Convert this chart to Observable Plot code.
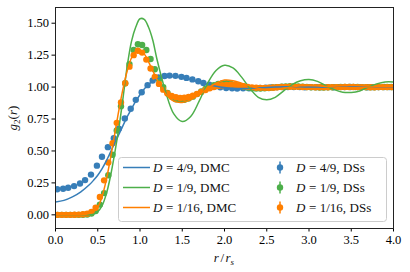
<!DOCTYPE html>
<html>
<head>
<meta charset="utf-8">
<script src="https://cdn.jsdelivr.net/npm/d3@7"></script>
<script src="https://cdn.jsdelivr.net/npm/@observablehq/plot@0.6"></script>
<style>
  html, body { margin: 0; padding: 0; background: white; }
  #chart svg { display: block; }
  #chart svg text { font-family: 'Liberation Serif', serif; }
</style>
</head>
<body>
<div id="chart"></div>
<script>
// ---------- data ----------
const xTicks = [0, 0.5, 1, 1.5, 2, 2.5, 3, 3.5, 4];
const yTicks = [0, 0.25, 0.5, 0.75, 1, 1.25, 1.5];

const seriesD = ["4/9", "1/9", "1/16"];
const seriesColors = ["#377eb8", "#4daf4a", "#ff7f00"];

// DMC curves
const rLine = [0,0.1,0.2,0.3,0.4,0.45,0.5,0.55,0.6,0.65,
  0.7,0.75,0.8,0.85,0.9,0.95,1.0,1.05,1.1,1.15,
  1.2,1.3,1.4,1.5,1.6,1.7,1.8,1.9,2.0,2.1,
  2.2,2.3,2.4,2.5,2.6,2.7,2.8,2.9,3.0,3.1,
  3.2,3.3,3.4,3.5,3.6,3.7,3.8,3.9,4.0];
const gBlueDMC = [0.10,0.113,0.14,0.18,0.235,0.27,0.31,0.36,0.42,0.49,
  0.56,0.63,0.70,0.77,0.83,0.89,0.94,0.985,1.02,1.045,
  1.063,1.08,1.083,1.075,1.06,1.042,1.022,1.006,0.996,0.99,
  0.988,0.99,0.993,0.997,1.0,1.002,1.003,1.002,1.001,1.0,
  0.999,0.999,0.999,1.0,1.0,1.0,1.0,1.0,1.0];
const gGreenDMC = [0,0,0,0,0.001,0.005,0.025,0.07,0.16,0.30,
  0.48,0.68,0.92,1.17,1.36,1.47,1.535,1.53,1.47,1.37,
  1.22,0.97,0.79,0.73,0.77,0.89,1.03,1.13,1.17,1.15,
  1.08,0.99,0.92,0.90,0.92,0.97,1.02,1.05,1.06,1.045,
  1.01,0.98,0.96,0.958,0.97,1.0,1.025,1.04,1.04];
const gOrangeDMC = [0,0,0,0.001,0.01,0.025,0.06,0.14,0.27,0.44,
  0.63,0.82,0.99,1.13,1.23,1.28,1.285,1.26,1.20,1.13,
  1.06,0.95,0.89,0.88,0.90,0.94,0.99,1.03,1.055,1.05,
  1.03,1.01,0.99,0.98,0.98,0.99,1.0,1.01,1.012,1.01,
  1.005,1.0,0.995,0.995,0.997,1.0,1.003,1.003,1.002];

// DSs points
const rBlueDS = [0.02,0.09,0.15,0.22,0.29,0.35,0.42,0.49,0.55,0.62,
  0.69,0.75,0.82,0.89,0.95,1.02,1.09,1.15,1.22,1.29,
  1.35,1.42,1.49,1.55,1.62,1.69,1.75,1.82,1.89,1.95,
  2.02,2.09,2.15,2.22,2.29,2.35,2.42,2.49,2.55,2.62,
  2.69,2.75,2.82,2.89,2.95,3.02,3.09,3.15,3.22,3.29,
  3.35,3.42,3.49,3.55,3.62,3.69,3.75,3.82,3.89,3.95];
const gBlueDS = [0.200,0.204,0.212,0.225,0.245,0.272,0.315,0.385,0.455,0.53,
  0.60,0.675,0.755,0.83,0.9,0.96,1.015,1.052,1.076,1.087,
  1.09,1.088,1.08,1.072,1.06,1.046,1.032,1.018,1.006,0.998,
  0.993,0.99,0.989,0.99,0.99,0.992,0.994,0.996,0.998,1.0,
  1.001,1.0,1.001,1.0,0.999,1.0,1.0,1.001,1.0,0.999,
  1.0,1.0,1.001,1.0,1.0,0.999,1.0,1.0,1.001,1.0];

const rDenseDS = [0.025,0.075,0.125,0.175,0.225,0.275,0.325,0.375,0.425,0.475,
  0.525,0.575,0.625,0.675,0.725,0.775,0.825,0.875,0.925,0.975,
  1.025,1.075,1.125,1.175,1.225,1.275,1.325,1.375,1.425,1.475,
  1.525,1.575,1.625,1.675,1.725,1.775,1.825,1.875,1.925,1.975,
  2.025,2.075,2.125,2.175,2.225,2.275,2.325,2.375,2.425,2.475,
  2.525,2.575,2.625,2.675,2.725,2.775,2.825,2.875,2.925,2.975,
  3.025,3.075,3.125,3.175,3.225,3.275,3.325,3.375,3.425,3.475,
  3.525,3.575,3.625,3.675,3.725,3.775,3.825,3.875,3.925,3.975];
const gGreenDS = [0,0,0,0,0,0,0.001,0.003,0.01,0.03,
  0.08,0.17,0.31,0.47,0.66,0.85,1.03,1.18,1.29,1.335,
  1.33,1.29,1.22,1.14,1.06,1.0,0.955,0.925,0.905,0.9,
  0.9,0.91,0.925,0.945,0.965,0.985,1.0,1.015,1.025,1.03,
  1.03,1.025,1.018,1.01,1.002,0.996,0.991,0.988,0.988,0.99,
  0.993,0.997,1.0,1.003,1.005,1.006,1.006,1.005,1.003,1.001,
  0.999,0.998,0.997,0.997,0.998,0.999,1.0,1.001,1.002,1.002,
  1.002,1.001,1.0,0.999,0.999,0.999,1.0,1.0,1.001,1.001];
const gOrangeDS = [0,0,0,0,0.001,0.002,0.004,0.009,0.022,0.055,
  0.14,0.27,0.41,0.56,0.72,0.88,1.03,1.16,1.25,1.285,
  1.27,1.215,1.145,1.08,1.025,0.98,0.95,0.93,0.92,0.915,
  0.917,0.923,0.933,0.947,0.962,0.977,0.99,1.0,1.008,1.014,
  1.017,1.018,1.016,1.012,1.007,1.002,0.998,0.995,0.994,0.994,
  0.995,0.997,0.999,1.001,1.002,1.003,1.003,1.002,1.001,1.0,
  1.0,0.999,0.999,0.999,0.999,1.0,1.0,1.0,1.001,1.001,
  1.001,1.0,1.0,1.0,0.999,0.999,1.0,1.0,1.0,1.0];

// ---------- tables ----------
const toRows = (rs, gs) => rs.map((r, i) => ({r, g: gs[i]}));
const lineSets = [gBlueDMC, gGreenDMC, gOrangeDMC].map(gs => toRows(rLine, gs));
const dotSets = [toRows(rBlueDS, gBlueDS), toRows(rDenseDS, gGreenDS), toRows(rDenseDS, gOrangeDS)];

const FONT = "Liberation Serif";
const W = 410, H = 272;
const chart = Plot.plot({
  width: W, height: H,
  marginLeft: 55, marginRight: 17, marginTop: 7, marginBottom: 44,
  style: "font-family: 'Liberation Serif', serif; font-size: 12px; color: #000; background: white;",
  x: {domain: [0, 4], label: null},
  y: {domain: [-0.107, 1.623], label: null},
  marks: [
    ...dotSets.map((d, i) => Plot.dot(d, {x: "r", y: "g", r: 3.2, fill: seriesColors[i], stroke: "none", clip: true})),
    ...lineSets.map((d, i) => Plot.line(d, {x: "r", y: "g", stroke: seriesColors[i], strokeWidth: 1.5, curve: "catmull-rom", clip: true})),
    Plot.axisX(xTicks, {tickSize: 3.5, tickPadding: 3, tickFormat: d => d.toFixed(1), fontSize: 12.5, fontFamily: FONT, label: null}),
    Plot.axisY(yTicks, {tickSize: 3.5, tickPadding: 3, tickFormat: d => d.toFixed(2), fontSize: 12.5, fontFamily: FONT, label: null}),
    Plot.frame({stroke: "#222", strokeWidth: 1})
  ]
});
document.getElementById("chart").appendChild(chart);

// ---------- legend & axis titles ----------
const svg = d3.select(chart);
const lg = svg.append("g").attr("text-anchor", "start");
lg.append("rect").attr("x", 118.5).attr("y", 157.5).attr("width", 268).attr("height", 64)
  .attr("rx", 3).attr("fill", "white").attr("fill-opacity", 0.8).attr("stroke", "#cccccc").attr("stroke-width", 1);
const rowsY = [167.5, 187.5, 207.5];
function label(x, y, d, method) {
  const t = lg.append("text").attr("x", x).attr("y", y + 4.5).attr("text-anchor", "start")
    .attr("font-family", FONT).attr("font-size", 13).attr("fill", "#111");
  t.append("tspan").attr("font-style", "italic").text("D");
  t.append("tspan").attr("dx", 3.5).text("=");
  t.append("tspan").attr("dx", 3.5).text(d + ",");
  t.append("tspan").attr("dx", 3.5).text(method);
}
seriesD.forEach((d, i) => {
  const y = rowsY[i];
  lg.append("line").attr("x1", 123).attr("x2", 150).attr("y1", y).attr("y2", y)
    .attr("stroke", seriesColors[i]).attr("stroke-width", 1.5);
  label(153, y, d, "DMC");
  lg.append("line").attr("x1", 280).attr("x2", 280).attr("y1", y - 6).attr("y2", y + 6)
    .attr("stroke", seriesColors[i]).attr("stroke-width", 1.5);
  lg.append("circle").attr("cx", 280).attr("cy", y).attr("r", 3.2).attr("fill", seriesColors[i]);
  label(296, y, d, "DSs");
});

const yl = svg.append("text").attr("transform", "translate(17,118) rotate(-90)")
  .attr("text-anchor", "middle").attr("font-family", FONT).attr("font-size", 13).attr("fill", "#111");
yl.append("tspan").attr("font-style", "italic").text("g");
yl.append("tspan").attr("font-size", 9).attr("dy", 3).text("2");
yl.append("tspan").attr("dy", -3).text("(");
yl.append("tspan").attr("font-style", "italic").text("r");
yl.append("tspan").text(")");

const xl = svg.append("text").attr("x", 224).attr("y", 262)
  .attr("text-anchor", "middle").attr("font-family", FONT).attr("font-size", 13).attr("fill", "#111");
xl.append("tspan").attr("font-style", "italic").text("r");
xl.append("tspan").attr("dx", 1.5).text("/");
xl.append("tspan").attr("dx", 1.5).attr("font-style", "italic").text("r");
xl.append("tspan").attr("font-size", 9).attr("font-style", "italic").attr("dy", 2.5).text("s");
</script>
</body>
</html>
